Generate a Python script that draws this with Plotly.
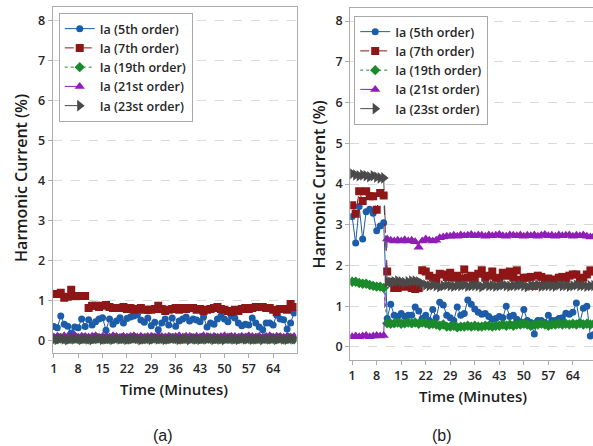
import plotly.graph_objects as go

# Time axis (minutes)
minutes = list(range(1, 71))

# Panel (a): harmonic current (%) per order
a_5th = [0.36, 0.33, 0.62, 0.42, 0.37, 0.20, 0.35, 0.33, 0.55, 0.36,
         0.53, 0.40, 0.48, 0.55, 0.58, 0.27, 0.55, 0.42, 0.50, 0.58,
         0.45, 0.56, 0.60, 0.62, 0.66, 0.52, 0.47, 0.57, 0.38, 0.47,
         0.28, 0.45, 0.55, 0.40, 0.57, 0.37, 0.50, 0.55, 0.60, 0.50,
         0.55, 0.52, 0.48, 0.60, 0.35, 0.45, 0.42, 0.55, 0.62, 0.55,
         0.48, 0.62, 0.57, 0.45, 0.38, 0.42, 0.40, 0.57, 0.45, 0.35,
         0.28, 0.45, 0.45, 0.40, 0.65, 0.55, 0.53, 0.30, 0.45, 0.70]
a_7th = [1.17, 1.17, 1.20, 1.08, 1.10, 1.28, 1.12, 1.12, 1.12, 1.12,
         0.82, 0.88, 0.88, 0.85, 0.88, 0.90, 0.85, 0.82, 0.82, 0.82,
         0.85, 0.80, 0.82, 0.78, 0.80, 0.82, 0.78, 0.78, 0.78, 0.80,
         0.88, 0.80, 0.75, 0.78, 0.80, 0.82, 0.78, 0.82, 0.80, 0.82,
         0.82, 0.78, 0.80, 0.75, 0.78, 0.80, 0.82, 0.85, 0.80, 0.78,
         0.75, 0.72, 0.78, 0.75, 0.80, 0.82, 0.80, 0.82, 0.85, 0.85,
         0.85, 0.82, 0.82, 0.78, 0.72, 0.80, 0.80, 0.78, 0.92, 0.85]
a_19th = [0.05, 0.04, 0.06, 0.05, 0.04, 0.05, 0.06, 0.04, 0.05, 0.05,
          0.04, 0.05, 0.05, 0.06, 0.04, 0.05, 0.04, 0.05, 0.06, 0.05,
          0.05, 0.04, 0.05, 0.06, 0.05, 0.04, 0.05, 0.05, 0.04, 0.06,
          0.05, 0.05, 0.04, 0.05, 0.06, 0.05, 0.04, 0.05, 0.05, 0.06,
          0.04, 0.05, 0.05, 0.04, 0.06, 0.05, 0.05, 0.04, 0.05, 0.06,
          0.05, 0.04, 0.05, 0.05, 0.06, 0.04, 0.05, 0.05, 0.04, 0.05,
          0.06, 0.05, 0.04, 0.05, 0.05, 0.06, 0.04, 0.05, 0.05, 0.04]
a_21st = [0.10, 0.12, 0.09, 0.13, 0.11, 0.10, 0.14, 0.09, 0.12, 0.11,
          0.10, 0.12, 0.13, 0.09, 0.11, 0.12, 0.10, 0.13, 0.11, 0.09,
          0.12, 0.10, 0.11, 0.13, 0.10, 0.12, 0.09, 0.11, 0.12, 0.10,
          0.13, 0.11, 0.10, 0.12, 0.09, 0.11, 0.13, 0.10, 0.12, 0.11,
          0.09, 0.12, 0.10, 0.13, 0.11, 0.10, 0.12, 0.09, 0.11, 0.13,
          0.10, 0.12, 0.11, 0.09, 0.12, 0.10, 0.13, 0.11, 0.10, 0.12,
          0.09, 0.11, 0.13, 0.10, 0.12, 0.11, 0.09, 0.12, 0.10, 0.11]
a_23rd = [0.06, 0.04, 0.07, 0.05, 0.03, 0.06, 0.05, 0.07, 0.04, 0.06,
          0.05, 0.03, 0.06, 0.07, 0.04, 0.05, 0.06, 0.04, 0.07, 0.05,
          0.06, 0.04, 0.05, 0.07, 0.06, 0.03, 0.05, 0.06, 0.04, 0.07,
          0.05, 0.06, 0.04, 0.05, 0.07, 0.06, 0.04, 0.05, 0.06, 0.03,
          0.07, 0.05, 0.04, 0.06, 0.05, 0.07, 0.04, 0.06, 0.05, 0.03,
          0.06, 0.07, 0.05, 0.04, 0.06, 0.05, 0.07, 0.04, 0.05, 0.06,
          0.03, 0.06, 0.05, 0.07, 0.04, 0.06, 0.05, 0.04, 0.07, 0.05]

# Panel (b): harmonic current (%) per order
b_5th = [3.20, 2.55, 3.45, 2.65, 3.32, 3.38, 3.28, 2.85, 2.97, 3.05,
         0.70, 1.05, 0.78, 0.75, 0.82, 0.75, 0.78, 0.78, 0.98, 0.88,
         0.70, 0.78, 0.65, 0.92, 0.72, 1.10, 1.03, 0.78, 0.72, 0.65,
         0.98, 0.78, 0.82, 1.15, 1.05, 0.93, 0.85, 0.80, 0.82, 0.75,
         0.68, 0.70, 0.75, 0.72, 1.00, 0.75, 0.78, 0.68, 0.62, 0.92,
         0.65, 0.60, 0.32, 0.65, 0.65, 0.60, 0.78, 0.65, 0.65, 0.70,
         0.72, 0.83, 0.80, 0.85, 1.08, 0.60, 0.95, 1.00, 0.27, 0.30]
b_7th = [3.48, 3.27, 3.82, 3.58, 3.82, 3.70, 3.70, 3.37, 3.78, 3.72,
         1.85, 1.60, 1.45, 1.45, 1.50, 1.48, 1.55, 1.45, 1.42, 1.45,
         1.88, 1.85, 1.75, 1.70, 1.65, 1.80, 1.78, 1.72, 1.82, 1.70,
         1.75, 1.68, 1.90, 1.70, 1.75, 1.65, 1.80, 1.88, 1.70, 1.75,
         1.85, 1.70, 1.68, 1.82, 1.75, 1.85, 1.70, 1.88, 1.65, 1.70,
         1.70, 1.72, 1.50, 1.75, 1.72, 1.60, 1.68, 1.65, 1.65, 1.70,
         1.72, 1.68, 1.75, 1.78, 1.78, 1.60, 1.70, 1.78, 1.88, 1.85]
b_19th = [1.60, 1.60, 1.57, 1.55, 1.55, 1.52, 1.50, 1.48, 1.48, 1.45,
          0.58, 0.57, 0.58, 0.60, 0.57, 0.58, 0.60, 0.58, 0.60, 0.57,
          0.60, 0.58, 0.55, 0.57, 0.55, 0.52, 0.55, 0.50, 0.50, 0.52,
          0.48, 0.50, 0.50, 0.52, 0.50, 0.52, 0.50, 0.50, 0.52, 0.52,
          0.50, 0.52, 0.52, 0.55, 0.52, 0.55, 0.52, 0.55, 0.55, 0.57,
          0.55, 0.52, 0.55, 0.55, 0.57, 0.55, 0.52, 0.55, 0.55, 0.57,
          0.55, 0.57, 0.55, 0.57, 0.55, 0.58, 0.55, 0.57, 0.55, 0.57]
b_21st = [0.25, 0.27, 0.25, 0.27, 0.28, 0.25, 0.27, 0.28, 0.27, 0.28,
          2.65, 2.62, 2.60, 2.62, 2.60, 2.63, 2.60, 2.62, 2.58, 2.45,
          2.60, 2.65, 2.62, 2.60, 2.62, 2.68, 2.70, 2.72, 2.72, 2.74,
          2.72, 2.75, 2.73, 2.74, 2.76, 2.73, 2.75, 2.74, 2.72, 2.75,
          2.73, 2.74, 2.76, 2.73, 2.72, 2.75, 2.74, 2.73, 2.75, 2.72,
          2.74, 2.73, 2.75, 2.72, 2.74, 2.76, 2.73, 2.74, 2.72, 2.75,
          2.73, 2.74, 2.75, 2.72, 2.74, 2.73, 2.75, 2.72, 2.70, 2.72]
b_23rd = [4.25, 4.22, 4.20, 4.22, 4.20, 4.18, 4.20, 4.17, 4.15, 4.15,
          1.60, 1.58, 1.60, 1.62, 1.60, 1.58, 1.60, 1.62, 1.62, 1.60,
          1.55, 1.52, 1.50, 1.52, 1.50, 1.48, 1.50, 1.52, 1.50, 1.49,
          1.51, 1.50, 1.52, 1.49, 1.50, 1.51, 1.50, 1.48, 1.52, 1.50,
          1.51, 1.49, 1.50, 1.52, 1.50, 1.49, 1.51, 1.50, 1.52, 1.50,
          1.48, 1.51, 1.50, 1.52, 1.49, 1.50, 1.51, 1.50, 1.49, 1.52,
          1.50, 1.51, 1.49, 1.50, 1.52, 1.50, 1.51, 1.49, 1.50, 1.51]

series_names = ["Ia (5th order)", "Ia (7th order)", "Ia (19th order)",
                "Ia (21st order)", "Ia (23st order)"]
x_ticks = [1, 8, 15, 22, 29, 36, 43, 50, 57, 64]
y_ticks = [0, 1, 2, 3, 4, 5, 6, 7, 8]

styles = [
    dict(color="#1c5ca8", symbol="circle", size=7, dash="solid"),
    dict(color="#8e1616", symbol="square", size=8, dash="dash"),
    dict(color="#1b8a2b", symbol="diamond", size=8, dash="dot"),
    dict(color="#8f1db8", symbol="triangle-up", size=9, dash="longdash"),
    dict(color="#4a4a4a", symbol="triangle-right", size=10, dash="longdash"),
]

fig = go.Figure()
panels = [
    ([a_5th, a_7th, a_19th, a_21st, a_23rd], "x", "y", "legend"),
    ([b_5th, b_7th, b_19th, b_21st, b_23rd], "x2", "y2", "legend2"),
]
for values_list, xa, ya, lg in panels:
    for name, vals, st in zip(series_names, values_list, styles):
        fig.add_trace(go.Scatter(
            x=minutes, y=vals, name=name, mode="lines+markers",
            xaxis=xa, yaxis=ya, legend=lg,
            line=dict(color=st["color"], width=1, dash=st["dash"]),
            marker=dict(color=st["color"], symbol=st["symbol"], size=st["size"],
                        line=dict(width=0)),
        ))

tick_font = dict(family="Open Sans", size=12.5, color="#262626", weight=600)
axis_common = dict(
    showline=True, linecolor="#ababab", linewidth=1,
    ticks="outside", ticklen=4, tickcolor="#ababab",
    tickfont=tick_font, zeroline=False,
)
legend_font = dict(family="Open Sans", size=12.5, color="#262626", weight=600)

fig.update_layout(
    width=593, height=446,
    margin=dict(l=0, r=0, t=0, b=0),
    paper_bgcolor="white", plot_bgcolor="white",
    font=dict(family="Open Sans", color="#262626"),
    xaxis=dict(domain=[50 / 593, 295 / 593], range=[0.7, 70.7],
               tickvals=x_ticks, showgrid=False, mirror=True,
               anchor="y", **axis_common),
    yaxis=dict(domain=[1 - 353 / 446, 1 - 7 / 446], range=[-0.3, 8.33],
               tickvals=y_ticks, showgrid=True, gridcolor="#d9d9d9",
               griddash="dash", gridwidth=1, mirror=True,
               anchor="x", **axis_common),
    xaxis2=dict(domain=[349 / 593, 1.0], range=[0.45, 69.75],
                tickvals=x_ticks, showgrid=False, mirror=True,
                anchor="y2", **axis_common),
    yaxis2=dict(domain=[1 - 360 / 446, 1 - 8 / 446], range=[-0.32, 8.32],
                tickvals=y_ticks, showgrid=True, gridcolor="#d9d9d9",
                griddash="dash", gridwidth=1, mirror=False,
                anchor="x2", **axis_common),
    legend=dict(x=56 / 593, y=1 - 13 / 446, xanchor="left", yanchor="top",
                bgcolor="white", bordercolor="#a8a8a8", borderwidth=1,
                font=legend_font, tracegroupgap=0, itemwidth=30),
    legend2=dict(x=353 / 593, y=1 - 16 / 446, xanchor="left", yanchor="top",
                 bgcolor="white", bordercolor="#a8a8a8", borderwidth=1,
                 font=legend_font, tracegroupgap=0, itemwidth=30),
    showlegend=True,
)

title_font = dict(family="Open Sans", size=15, color="#1a1a1a", weight=600)
caption_font = dict(family="Liberation Sans", size=16, color="#1a1a1a")
annotations = [
    dict(text="Time (Minutes)", x=172, y=389, font=title_font),
    dict(text="Time (Minutes)", x=472, y=396, font=title_font),
    dict(text="Harmonic Current (%)", x=18, y=178, textangle=-90,
         font=dict(title_font, size=16)),
    dict(text="Harmonic Current (%)", x=318, y=184, textangle=-90,
         font=dict(title_font, size=16)),
    dict(text="(a)", x=161, y=435, font=caption_font),
    dict(text="(b)", x=441, y=435, font=caption_font),
]
for ann in annotations:
    fig.add_annotation(
        text=ann["text"], x=ann["x"] / 593, y=1 - ann["y"] / 446,
        xref="paper", yref="paper", xanchor="center", yanchor="middle",
        showarrow=False, font=ann["font"], textangle=ann.get("textangle", 0),
    )

fig.write_html("out.html")
